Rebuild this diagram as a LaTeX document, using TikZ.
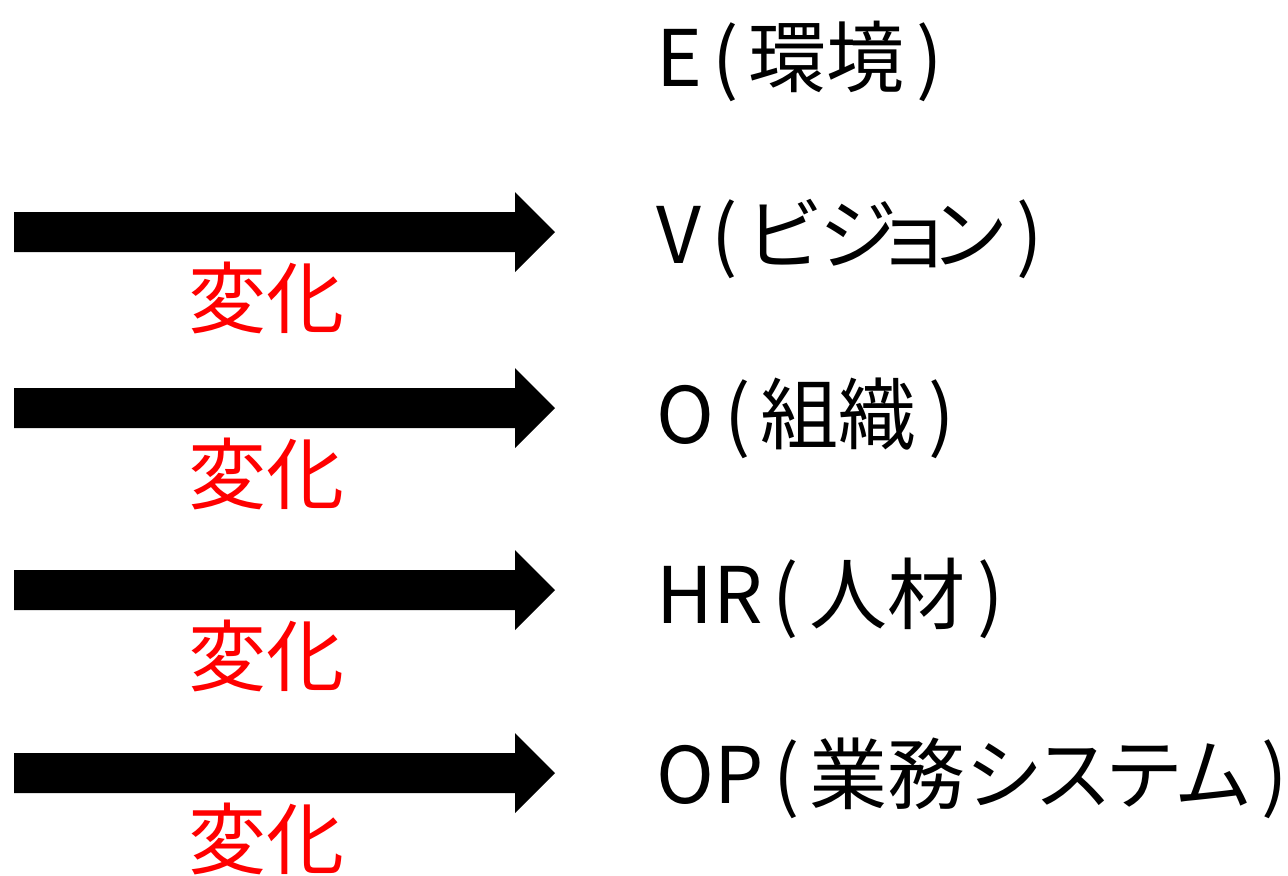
\documentclass[tikz,border=0pt]{standalone}
\usepackage{fontspec}
\setmainfont[RawFeature=+palt]{Noto Sans CJK JP}
\usetikzlibrary{positioning}
\definecolor{henka}{RGB}{255,0,0}
\newcommand{\layername}[2]{#1\kern5pt(\kern5pt#2\kern6pt)}

\begin{document}
\begin{tikzpicture}[x=0.5pt,y=-0.5pt]
 \tikzstyle{layer}=[anchor=west,inner sep=0pt,font=\fontsize{39}{40}\selectfont]
 \tikzstyle{change}=[inner sep=0pt,text=henka,font=\fontsize{39}{40}\selectfont]
 \useasboundingbox (0,0) rectangle (1288,875);

   \node[layer] (env) at (656,61) {\layername{E}{環境}};
   \node[layer] (vis) at (656,239) {\layername{V}{ビジ\kern-5pt ョ\kern-4pt ン}};
   \node[layer] (org) at (656,418) {\layername{O}{組織}};
   \node[layer] (hr)  at (656,598) {\layername{HR}{人材}};
   \node[layer] (op)  at (656,778) {\layername{OP}{業務システム}};

  \foreach \y/\n in {232/ch1,408/ch2,590/ch3,773/ch4} {
    \fill (14,\y-20) -- (515,\y-20) -- (515,\y-40) -- (555,\y) -- (515,\y+40) -- (515,\y+20) -- (14,\y+20) -- cycle;
    \node[change] (\n) at (266,\y+66) {変化};
  }

\end{tikzpicture}
\end{document}
